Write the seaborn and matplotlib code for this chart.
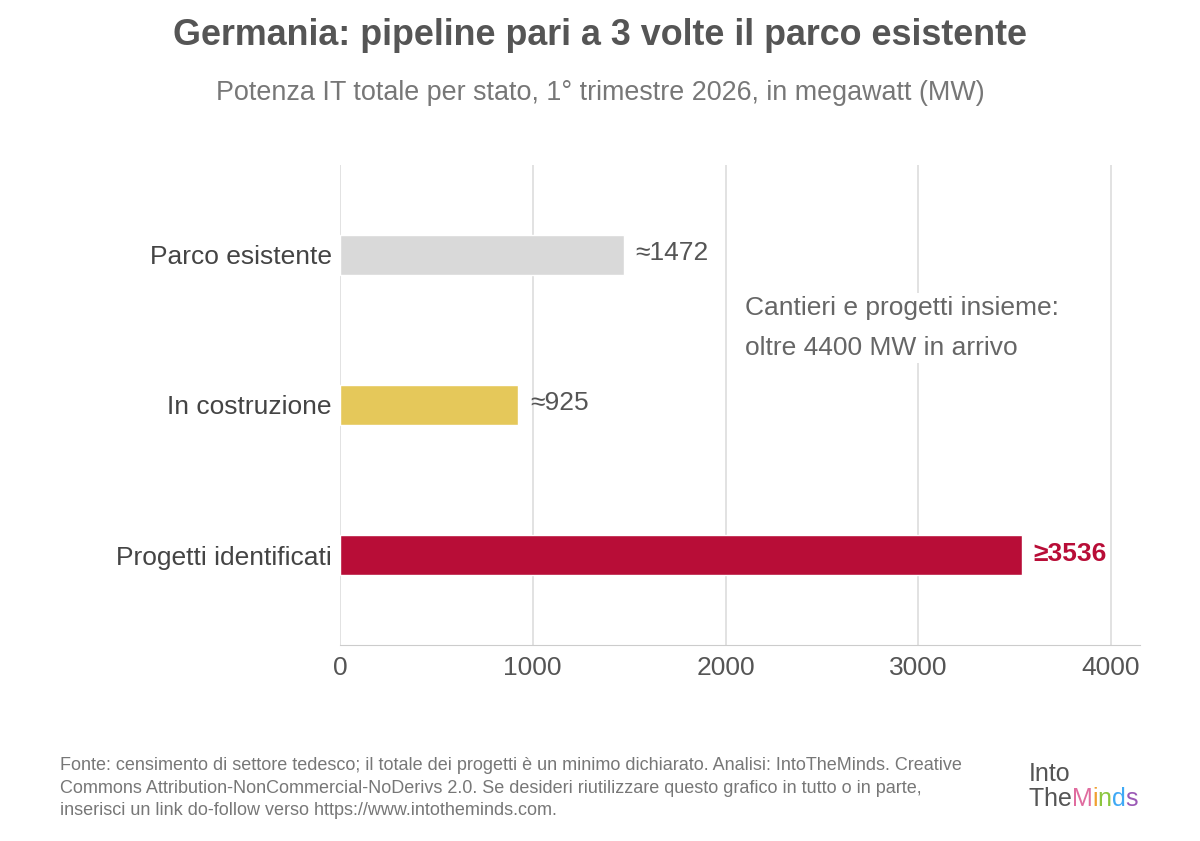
import matplotlib
matplotlib.use("Agg")
import matplotlib.pyplot as plt
import seaborn as sns
import pandas as pd

categories = ["Parco esistente", "In costruzione", "Progetti identificati"]
values = [1472, 925, 3536]
labels = ["≈1472", "≈925", "≥3536"]
colors = ["#d9d9d9", "#e5c85a", "#b80d37"]
ticks = [0, 1000, 2000, 3000, 4000]

sns.set_style("white")
plt.rcParams['font.family'] = ['Liberation Sans', 'DejaVu Sans']

df = pd.DataFrame({"cat": categories, "val": values})

fig = plt.figure(figsize=(12, 8.41), dpi=100)
ax = fig.add_axes([0.2833, 0.233, 0.6667, 0.571])
sns.barplot(data=df, y="cat", x="val", hue="cat", palette=colors, legend=False,
            width=0.267, orient="h", ax=ax, zorder=3, saturation=1)

ax.set_xlim(0, 4150)
ax.set_ylim(2.6, -0.6)
ax.set_xticks(ticks)
ax.set_xticklabels([str(t) for t in ticks], fontsize=19, color="#555555")
ax.tick_params(axis="y", labelsize=19, labelcolor="#444444", length=0, pad=6)
ax.tick_params(axis="x", length=0, pad=8)
ax.set_xlabel("")
ax.set_ylabel("")
ax.xaxis.grid(True, color="#dddddd", linewidth=1.2, zorder=0)
for s in ["top", "right", "left"]:
    ax.spines[s].set_visible(False)
ax.spines["bottom"].set_color("#cccccc")

for i, (v, lab) in enumerate(zip(values, labels)):
    last = i == 2
    ax.text(v + 60, i - 0.01, lab, va="center", ha="left", fontsize=19,
            color="#b80d37" if last else "#555555",
            fontweight="bold" if last else "normal")

ax.text(2100, 0.49, "Cantieri e progetti insieme:\noltre 4400 MW in arrivo",
        fontsize=19, color="#666666", va="center", ha="left", linespacing=1.85,
        bbox=dict(facecolor="white", edgecolor="none", pad=2), zorder=4)

fig.text(0.5, 0.958, "Germania: pipeline pari a 3 volte il parco esistente",
         ha="center", va="center", fontsize=25.8, fontweight="bold", color="#555555")
fig.text(0.5, 0.889, "Potenza IT totale per stato, 1° trimestre 2026, in megawatt (MW)",
         ha="center", va="center", fontsize=19.4, color="#777777")

fig.text(0.05, 0.063,
         "Fonte: censimento di settore tedesco; il totale dei progetti è un minimo dichiarato. Analisi: IntoTheMinds. Creative\n"
         "Commons Attribution-NonCommercial-NoDerivs 2.0. Se desideri riutilizzare questo grafico in tutto o in parte,\n"
         "inserisci un link do-follow verso https://www.intotheminds.com.",
         ha="left", va="center", fontsize=13, color="#777777", linespacing=1.45)

# logo
fig.text(0.857, 0.08, "Into", fontsize=18, color="#555555", ha="left", va="center")
renderer = fig.canvas.get_renderer()
x0 = 0.857
for ch, c in zip("TheMinds", ["#555555"] * 3 + ["#e06c9f", "#f0a030", "#8cc63f", "#3fa9f5", "#9b59b6"]):
    t = fig.text(x0, 0.05, ch, fontsize=18, color=c, ha="left", va="center")
    bb = t.get_window_extent(renderer)
    x0 += bb.width / fig.bbox.width

fig.savefig("out.png", dpi=100)
